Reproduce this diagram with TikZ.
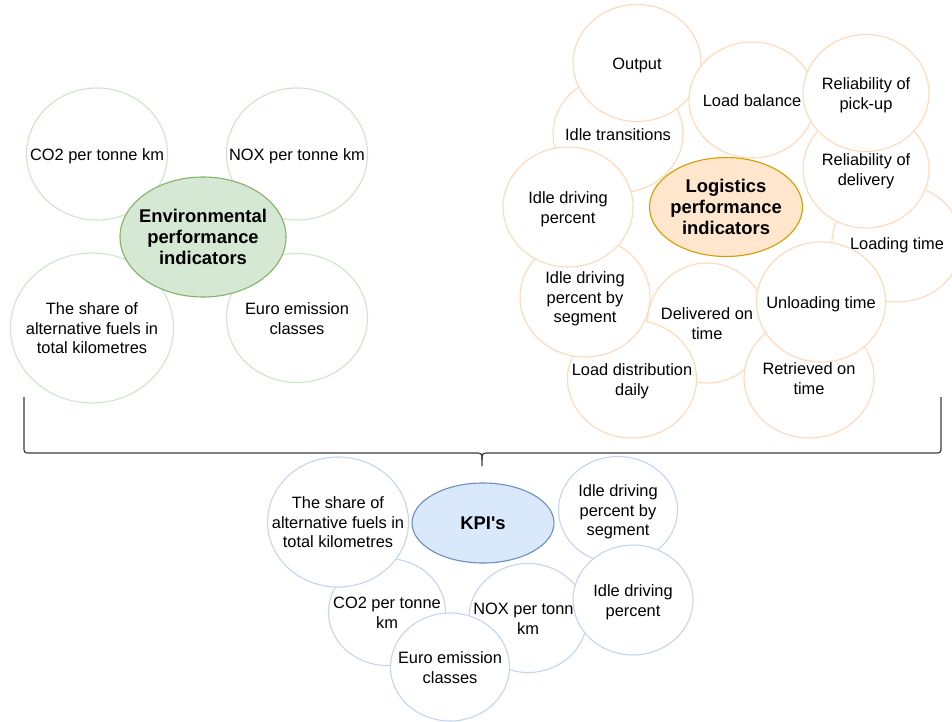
\documentclass[tikz,border=0pt]{standalone}
\usepackage{fontspec}
\setmainfont{Liberation Sans}
\usetikzlibrary{shapes.geometric}

\definecolor{envline}{HTML}{CFE3CD}
\definecolor{envfill}{HTML}{D5E8D4}
\definecolor{envdark}{HTML}{82B366}
\definecolor{logline}{HTML}{FFD9B8}
\definecolor{logfill}{HTML}{FFE6CC}
\definecolor{logdark}{HTML}{D79B00}
\definecolor{kpiline}{HTML}{C4D5EF}
\definecolor{kpifill}{HTML}{DAE8FC}
\definecolor{kpidark}{HTML}{6C8EBF}
\definecolor{bracecol}{HTML}{3A3A3A}

% text that does not widen the ellipse round it
\newcommand{\mtext}[1]{\makebox[0pt]{\raisebox{-6.8pt}[0pt][0pt]{\begin{tabular}{@{}c@{}}#1\end{tabular}}}}

\begin{document}
\begin{tikzpicture}[x=1pt, y=-1pt,
    item/.style={ellipse, draw, fill=white, line width=1.1pt, inner sep=0pt,
        font=\fontsize{16.4}{19.5}\selectfont},
    envitem/.style={item, draw=envline},
    logitem/.style={item, draw=logline},
    kpiitem/.style={item, draw=kpiline},
    head/.style={ellipse, line width=1.1pt, inner sep=0pt,
        font=\bfseries\fontsize{18.4}{21}\selectfont},
    dims/.style 2 args={minimum width=#1, minimum height=#2}]
    \useasboundingbox (0,0) rectangle (952,722);

    % Environmental group
    \node[envitem, dims={141}{132}] (envco) at (97,154) {\mtext{CO2 per tonne km}};
    \node[envitem, dims={141}{132}] (envnox) at (297,154) {\mtext{NOX per tonne km}};
    \node[envitem, dims={163}{150}] (envshare) at (92,328) {\mtext{The share of\\alternative fuels in\\total kilometres}};
    \node[envitem, dims={141}{129}] (enveuro) at (297,318) {\mtext{Euro emission\\classes}};
    \node[head, draw=envdark, fill=envfill, dims={166}{120}] (envhead) at (203,237) {\mtext{Environmental\\performance\\indicators}};

    % Logistics group
    \node[logitem, dims={130}{118}] (idletrans) at (618,134) {\mtext{Idle transitions}};
    \node[logitem, dims={128}{117}] (output) at (637,63) {\mtext{Output}};
    \node[logitem, dims={126}{116}] (loadbal) at (752,100) {\mtext{Load balance}};
    \node[logitem, dims={130}{118}] (loadtime) at (897,243) {\mtext{Loading time}};
    \node[logitem, dims={126}{118}] (reldel) at (866,169) {\mtext{Reliability of\\delivery}};
    \node[logitem, dims={126}{117}] (relpick) at (866,93) {\mtext{Reliability of\\pick-up}};
    \node[logitem, dims={119}{120}] (delivered) at (707,323) {\mtext{Delivered on\\time}};
    \node[logitem, dims={130}{120}] (retrieved) at (809,378) {\mtext{Retrieved on\\time}};
    \node[logitem, dims={129}{120}] (unloading) at (821,302) {\mtext{Unloading time}};
    \node[logitem, dims={129}{118}] (loaddist) at (632,379) {\mtext{Load distribution\\daily}};
    \node[logitem, dims={130}{120}] (byseg) at (585,297) {\mtext{Idle driving\\percent by\\segment}};
    \node[logitem, dims={130}{120}] (idlepct) at (568,207) {\mtext{Idle driving\\percent}};
    \node[head, draw=logdark, fill=logfill, dims={153}{99}] (loghead) at (726,207) {\mtext{Logistics\\performance\\indicators}};

    % Brace
    \coordinate (bl) at (24,397);
    \coordinate (br) at (941,397);
    \coordinate (tip) at (482,466);
    \draw[bracecol, line width=1.2pt] (bl) -- (24,446) .. controls (24,453) .. (31,453) -- (474,453)
        .. controls (482,453) .. (482,460) -- (tip);
    \draw[bracecol, line width=1.2pt] (br) -- (941,446) .. controls (941,453) .. (934,453) -- (490,453)
        .. controls (482,453) .. (482,460);

    % KPI group
    \node[kpiitem, dims={117}{107}] (kpico) at (387,612) {\mtext{CO2 per tonne\\km}};
    \node[kpiitem, dims={141}{130}] (kpishare) at (338,522) {\mtext{The share of\\alternative fuels in\\total kilometres}};
    \node[kpiitem, dims={118}{109}] (kpinox) at (528,618) {\mtext{NOX per tonne\\km}};
    \node[kpiitem, dims={119}{108}] (kpieuro) at (450,667) {\mtext{Euro emission\\classes}};
    \node[kpiitem, dims={119}{107}] (kpiseg) at (618,510) {\mtext{Idle driving\\percent by\\segment}};
    \node[kpiitem, dims={120}{110}] (kpipct) at (633,600) {\mtext{Idle driving\\percent}};
    \node[head, draw=kpidark, fill=kpifill, dims={142}{80}] (kpihead) at (483,523) {\mtext{KPI\textquotesingle s}};
\end{tikzpicture}
\end{document}
